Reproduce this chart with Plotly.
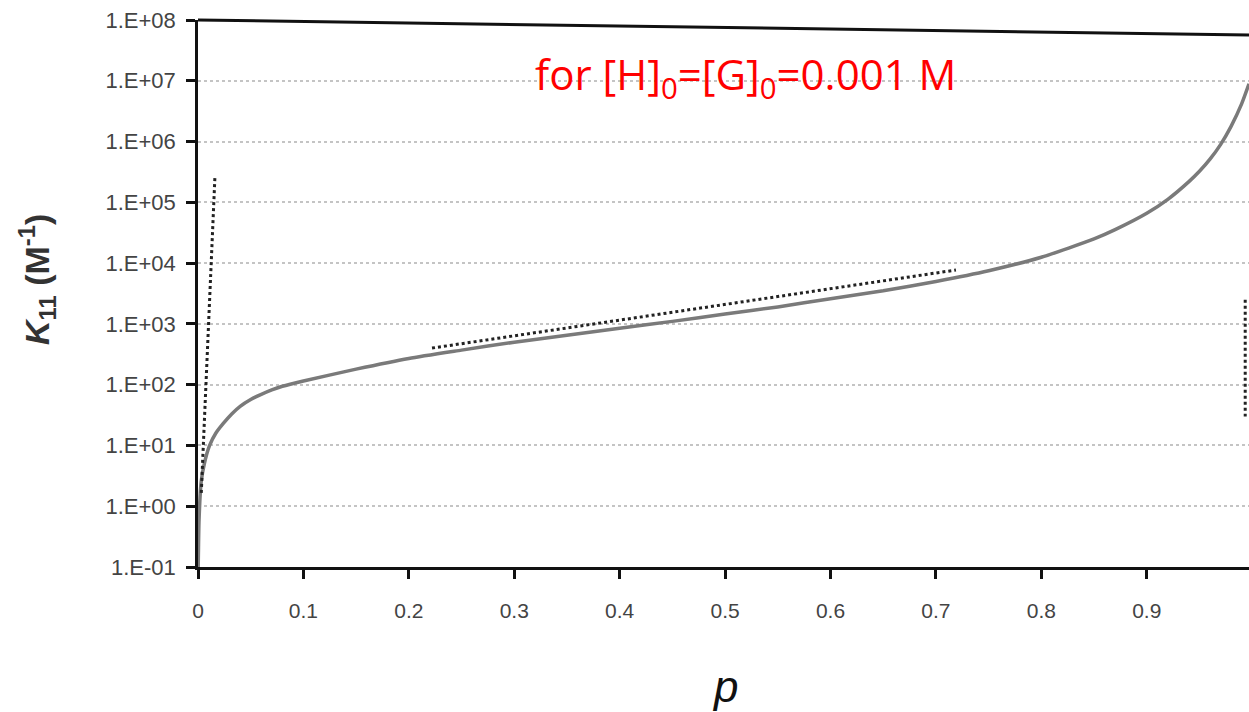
import plotly.graph_objects as go

# main curve K11 vs p
p_curve = [0.0002, 0.001, 0.003, 0.006, 0.011, 0.017, 0.024, 0.032, 0.04, 0.05, 0.059, 0.07,
           0.08, 0.1, 0.15, 0.2, 0.25, 0.3, 0.35, 0.4, 0.45, 0.5, 0.55, 0.6, 0.65, 0.7,
           0.75, 0.8, 0.85, 0.87, 0.9, 0.92, 0.94, 0.95, 0.96, 0.97, 0.98, 0.99, 0.997]
k_curve = [0.1, 0.6, 2.5, 5, 10, 16, 23, 33, 44, 57, 68, 82,
           94, 115, 180, 270, 370, 500, 650, 850, 1100, 1450, 1900, 2600, 3500, 5000,
           7500, 12500, 25000, 35500, 66000, 112000, 219000, 324000, 513000, 891000,
           1780000, 4170000, 8900000]

# dotted guide lines
p_dot_left = [0.016, 0.003]
k_dot_left = [250000, 1.5]
p_dot_mid = [0.222, 0.719]
k_dot_mid = [400, 7700]
p_dot_right = [0.9934, 0.9934]
k_dot_right = [2500, 30]

y_tickvals = [1e-1, 1e0, 1e1, 1e2, 1e3, 1e4, 1e5, 1e6, 1e7, 1e8]
y_ticktext = ["1.E-01", "1.E+00", "1.E+01", "1.E+02", "1.E+03", "1.E+04",
              "1.E+05", "1.E+06", "1.E+07", "1.E+08"]
x_tickvals = [0, 0.1, 0.2, 0.3, 0.4, 0.5, 0.6, 0.7, 0.8, 0.9]
x_ticktext = ["0", "0.1", "0.2", "0.3", "0.4", "0.5", "0.6", "0.7", "0.8", "0.9"]

fig = go.Figure()
fig.add_trace(go.Scatter(x=p_curve, y=k_curve, mode="lines",
                         line=dict(color="#7a7a7a", width=3.5, shape="spline", smoothing=0.6),
                         showlegend=False))
for px, ky in [(p_dot_left, k_dot_left), (p_dot_mid, k_dot_mid), (p_dot_right, k_dot_right)]:
    fig.add_trace(go.Scatter(x=px, y=ky, mode="lines",
                             line=dict(color="#222222", width=3, dash="dot"),
                             showlegend=False))

font_fam = "Liberation Sans, Arial, sans-serif"
fig.update_layout(
    width=1249, height=712,
    margin=dict(l=198, r=0, t=20, b=145),
    paper_bgcolor="white", plot_bgcolor="white",
    xaxis=dict(range=[0, 0.997], tickvals=x_tickvals, ticktext=x_ticktext,
               showgrid=False, zeroline=False, showline=True, linecolor="#111",
               linewidth=2.5, ticks="outside", ticklen=9, tickwidth=3, tickcolor="#111",
               ticklabelstandoff=14,
               tickfont=dict(family=font_fam, size=21, color="#444")),
    yaxis=dict(type="log", range=[-1, 8], tickvals=y_tickvals, ticktext=y_ticktext,
               showgrid=True, gridcolor="#c4c4c4", griddash="dot", gridwidth=1.5,
               zeroline=False, showline=True, linecolor="#111", linewidth=2.5,
               ticks="outside", ticklen=9, tickwidth=3, tickcolor="#111",
               ticklabelstandoff=6,
               tickfont=dict(family=font_fam, size=22, color="#444")),
    shapes=[dict(type="line", xref="paper", yref="paper", x0=0, x1=1, y0=1, y1=1 - 15 / 547,
                 line=dict(color="#111", width=3))],
    annotations=[
        dict(text="<b><i>K</i><sub>11</sub> (M<sup>-1</sup>)</b>", textangle=-90,
             xref="paper", yref="paper", x=-198 / 1051 + 37 / 1051, y=(567 - 280) / 547,
             xanchor="center", yanchor="middle", showarrow=False,
             font=dict(family=font_fam, size=34, color="#333")),
        dict(text="<i>p</i>", xref="paper", yref="paper",
             x=(725 - 198) / 1051, y=-(686 - 567) / 547,
             xanchor="center", yanchor="middle", showarrow=False,
             font=dict(family=font_fam, size=44, color="#111")),
        dict(text="for [H]<sub>0</sub>=[G]<sub>0</sub>=0.001 M", xref="paper", yref="paper",
             x=(533 - 198) / 1051, y=(567 - 76) / 547,
             xanchor="left", yanchor="middle", showarrow=False,
             font=dict(family="Open Sans, sans-serif", size=42, color="#ff0000")),
    ],
)

fig.write_html("out.html")
